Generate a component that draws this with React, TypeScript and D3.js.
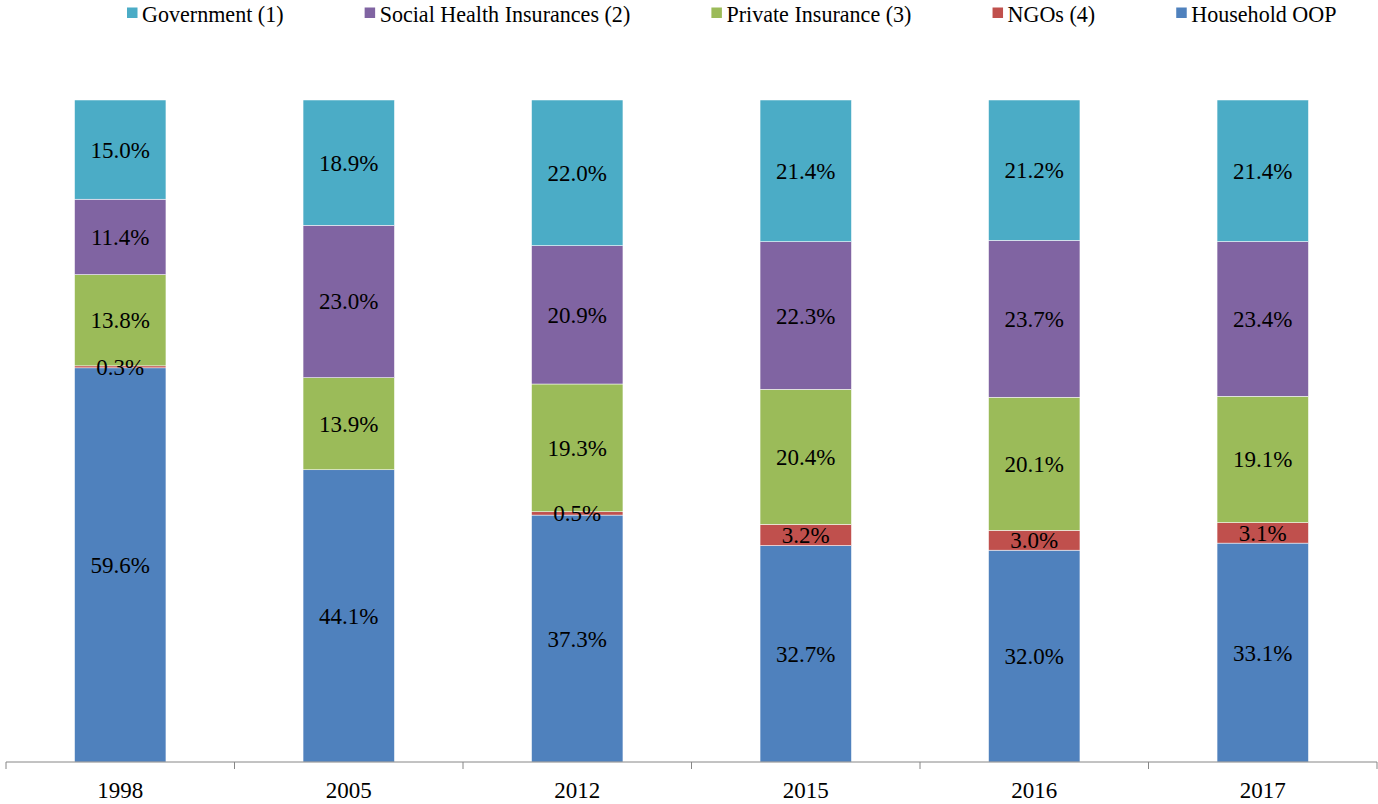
import React from "react";
import * as d3 from "d3";

const years = ["1998", "2005", "2012", "2015", "2016", "2017"];
const seriesNames = ["Household OOP", "NGOs (4)", "Private Insurance (3)", "Social Health Insurances (2)", "Government (1)"];
const seriesColors = ["#4F81BD", "#C0504D", "#9BBB59", "#8064A2", "#4BACC6"];
const householdOOP = [59.6, 44.1, 37.3, 32.7, 32.0, 33.1];
const ngos = [0.3, 0, 0.5, 3.2, 3.0, 3.1];
const privateIns = [13.8, 13.9, 19.3, 20.4, 20.1, 19.1];
const socialHealth = [11.4, 23.0, 20.9, 22.3, 23.7, 23.4];
const government = [15.0, 18.9, 22.0, 21.4, 21.2, 21.4];
const legendOrder = [4, 3, 2, 1, 0];

const W = 1378;
const H = 804;
const FONT = "Liberation Serif, Times New Roman, DejaVu Serif, serif";

function measure(text: string, size: number) {
  const c = document.createElement("canvas");
  const ctx = c.getContext("2d")!;
  ctx.font = `${size}px Liberation Serif, serif`;
  return ctx.measureText(text).width;
}

export default function App() {
  const values = [householdOOP, ngos, privateIns, socialHealth, government];
  const x = d3.scaleBand<string>().domain(years).range([6, 1377]).paddingInner(0.6).paddingOuter(0.3);
  const y = d3.scaleLinear().domain([0, 1]).range([762, 100]);

  const rows = years.map((yr, i) => {
    const obj: any = { year: yr };
    const total = d3.sum(values, (v) => v[i]);
    seriesNames.forEach((s, k) => (obj[s] = values[k][i] / total));
    return obj;
  });
  const stack = d3.stack<any>().keys(seriesNames)(rows);

  const step = x.step();
  const ticks = d3.range(years.length + 1).map((i) => 6 + i * step);

  const fs = 23;
  const lfs = 24;
  const lsx = 0.92;
  let lx = 127;
  const legendItems = legendOrder.map((k) => {
    const item = { k, x: lx };
    lx += 15 + measure(seriesNames[k], lfs) * lsx + 81;
    return item;
  });

  const textStyle = { fontFamily: FONT, fontSize: fs + "px" };
  const legendStyle = { fontFamily: FONT, fontSize: lfs + "px" };

  return (
    <svg width={W} height={H} style={{ position: "absolute", left: 0, top: 0, background: "#fff" }}>
      {legendItems.map((it) => (
        <g key={it.k}>
          <rect x={it.x} y={7.5} width={10.5} height={10.5} fill={seriesColors[it.k]} />
          <text transform={`translate(${it.x + 15},21.5) scale(${lsx},1)`} style={legendStyle} fill="#000">
            {seriesNames[it.k]}
          </text>
        </g>
      ))}
      {stack.map((layer, k) => (
        <g key={k}>
          {layer.map((d, i) => {
            const raw = values[k][i];
            if (raw <= 0) return null;
            const y0 = y(d[0]);
            const y1 = y(d[1]);
            return (
              <rect
                key={i}
                x={x(years[i])!}
                y={y1}
                width={x.bandwidth()}
                height={y0 - y1}
                fill={seriesColors[k]}
                stroke="#ffffff"
                strokeWidth={0.5}
              />
            );
          })}
        </g>
      ))}
      {stack.map((layer, k) => (
        <g key={"l" + k}>
          {layer.map((d, i) => {
            const raw = values[k][i];
            if (raw <= 0) return null;
            const cy = (y(d[0]) + y(d[1])) / 2;
            return (
              <text
                key={i}
                x={x(years[i])! + x.bandwidth() / 2}
                y={cy}
                dy="0.35em"
                textAnchor="middle"
                style={textStyle}
                fill="#000"
              >
                {raw.toFixed(1) + "%"}
              </text>
            );
          })}
        </g>
      ))}
      <line x1={6} x2={1377} y1={762} y2={762} stroke="#868686" strokeWidth={1} />
      {ticks.map((t, i) => (
        <line key={i} x1={t} x2={t} y1={762} y2={769} stroke="#868686" strokeWidth={1} />
      ))}
      {years.map((yr) => (
        <text key={yr} x={x(yr)! + x.bandwidth() / 2} y={798} textAnchor="middle" style={textStyle} fill="#000">
          {yr}
        </text>
      ))}
    </svg>
  );
}
